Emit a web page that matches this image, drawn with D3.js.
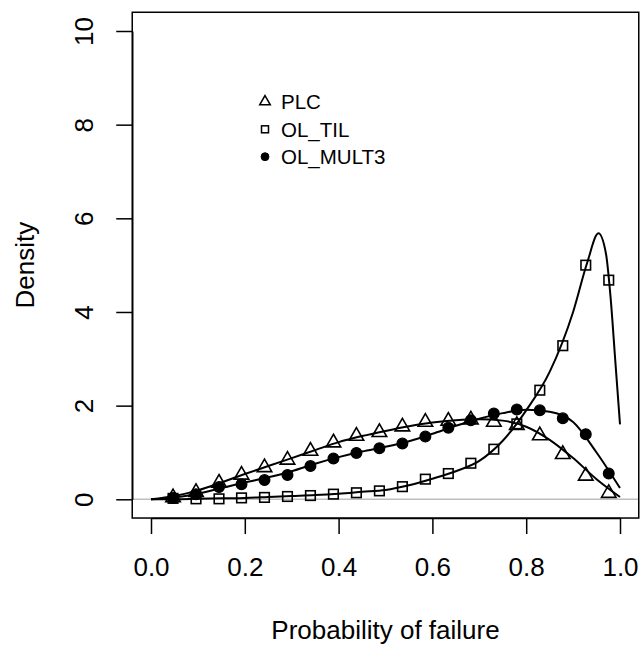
<!DOCTYPE html>
<html>
<head>
<meta charset="utf-8">
<script src="https://cdn.jsdelivr.net/npm/d3@7"></script>
<style>
  body { margin: 0; background: #fff; }
  text { font-family: "Liberation Sans", Arial, sans-serif; fill: #000; }
</style>
</head>
<body>
<div id="chart"></div>
<script>
// x positions of the plotted symbols
const pointX = [0.047, 0.096, 0.145, 0.193, 0.242, 0.291, 0.340, 0.389, 0.438, 0.487,
                0.536, 0.585, 0.634, 0.682, 0.731, 0.780, 0.829, 0.878, 0.927, 0.976];
const plcPts = [0.04, 0.15, 0.35, 0.52, 0.68, 0.84, 1.03, 1.21, 1.35, 1.43,
                1.55, 1.65, 1.67, 1.70, 1.65, 1.58, 1.36, 0.96, 0.50, 0.13];
const tilPts = [0.02, 0.01, 0.01, 0.03, 0.04, 0.06, 0.08, 0.11, 0.14, 0.18,
                0.27, 0.43, 0.55, 0.77, 1.07, 1.61, 2.33, 3.28, 5.00, 4.68];
const multPts = [0.03, 0.11, 0.26, 0.32, 0.41, 0.52, 0.71, 0.87, 0.99, 1.09,
                 1.19, 1.34, 1.53, 1.69, 1.83, 1.92, 1.90, 1.73, 1.39, 0.55];

// density curves
const curveX = [0, 0.05, 0.1, 0.15, 0.2, 0.25, 0.3, 0.35, 0.4, 0.45, 0.5,
                0.55, 0.6, 0.65, 0.7, 0.75, 0.8, 0.85, 0.9, 0.95, 1.0];
const plcCurve = [0.0, 0.07, 0.19, 0.36, 0.54, 0.71, 0.88, 1.05, 1.22, 1.35, 1.46,
                  1.56, 1.64, 1.69, 1.71, 1.68, 1.55, 1.27, 0.88, 0.43, 0.05];
const multCurve = [0.0, 0.04, 0.12, 0.24, 0.36, 0.47, 0.6, 0.76, 0.9, 1.02, 1.12,
                   1.24, 1.4, 1.57, 1.72, 1.84, 1.91, 1.87, 1.65, 1.0, 0.24];
const tilCurveX = [0, 0.05, 0.1, 0.15, 0.2, 0.25, 0.3, 0.35, 0.4, 0.45, 0.5, 0.55, 0.6,
                   0.65, 0.7, 0.75, 0.8, 0.85, 0.9, 0.93, 0.954, 0.97, 0.98, 0.99, 1.0];
const tilCurve = [0.0, 0.0, 0.01, 0.02, 0.03, 0.05, 0.07, 0.09, 0.12, 0.16, 0.2, 0.3, 0.44,
                  0.6, 0.82, 1.25, 1.9, 2.72, 4.0, 5.05, 5.68, 5.25, 4.3, 2.95, 1.6];

const xTicks = [0, 0.2, 0.4, 0.6, 0.8, 1.0];
const yTicks = [0, 2, 4, 6, 8, 10];
const legendLabels = ['PLC', 'OL_TIL', 'OL_MULT3'];

const w = 640;
const h = 650;

const x = d3.scaleLinear().domain([0, 1]).range([151, 620]);
const y = d3.scaleLinear().domain([0, 10]).range([499.3, 31]);

const boxL = x(-0.04), boxR = x(1.04), boxT = y(10.4), boxB = y(-0.4);

const svg = d3.select('#chart').append('svg').attr('width', w).attr('height', h);

// zero reference line
svg.append('line')
  .attr('x1', boxL).attr('x2', boxR)
  .attr('y1', y(0)).attr('y2', y(0))
  .attr('stroke', '#bebebe').attr('stroke-width', 1.5);

const line = d3.line().x(d => x(d[0])).y(d => y(d[1])).curve(d3.curveMonotoneX);

const drawCurve = (xs, ys) => {
  svg.append('path')
    .datum(xs.map((v, i) => [v, ys[i]]))
    .attr('d', line)
    .attr('fill', 'none')
    .attr('stroke', '#000')
    .attr('stroke-width', 2);
};
drawCurve(curveX, plcCurve);
drawCurve(tilCurveX, tilCurve);
drawCurve(curveX, multCurve);

// symbol shapes, R style
const size = 14.4;
const triPath = (s) => {
  const r = 0.583 * s, yc = 0.2916 * s, xc = 0.505 * s;
  return `M0,${-r}L${xc},${yc}L${-xc},${yc}Z`;
};

const drawTriangles = (vals, s) => {
  svg.append('g').selectAll('path')
    .data(vals)
    .enter()
    .append('path')
    .attr('d', triPath(s))
    .attr('transform', (d, i) => 'translate(' + x(pointX[i]) + ',' + y(d) + ')')
    .attr('fill', 'none').attr('stroke', '#000').attr('stroke-width', 1.6);
};
const drawSquares = (vals, s) => {
  const half = 0.3323 * s;
  svg.append('g').selectAll('rect')
    .data(vals)
    .enter()
    .append('rect')
    .attr('x', (d, i) => x(pointX[i]) - half)
    .attr('y', d => y(d) - half)
    .attr('width', half * 2).attr('height', half * 2)
    .attr('fill', 'none').attr('stroke', '#000').attr('stroke-width', 1.6);
};
const drawDots = (vals, s) => {
  svg.append('g').selectAll('circle')
    .data(vals)
    .enter()
    .append('circle')
    .attr('cx', (d, i) => x(pointX[i]))
    .attr('cy', d => y(d))
    .attr('r', 0.375 * s)
    .attr('fill', '#000').attr('stroke', '#000').attr('stroke-width', 1.2);
};

drawTriangles(plcPts, size);
drawSquares(tilPts, size);
drawDots(multPts, size);

// box
svg.append('rect')
  .attr('x', boxL).attr('y', boxT)
  .attr('width', boxR - boxL).attr('height', boxB - boxT)
  .attr('fill', 'none').attr('stroke', '#000').attr('stroke-width', 1.5);

// axes
const xAxis = d3.axisBottom(x).tickValues(xTicks).tickFormat(d3.format('.1f')).tickSize(16).tickSizeOuter(0);
const gx = svg.append('g').attr('transform', 'translate(0,' + boxB + ')').call(xAxis);
gx.selectAll('line').attr('stroke', '#000').attr('stroke-width', 1.5);
gx.select('.domain').attr('stroke', '#000').attr('stroke-width', 1.5);
gx.selectAll('text').attr('y', 58).attr('dy', 0).style('font-size', '26px').style('font-family', '"Liberation Sans", Arial, sans-serif');

const yAxis = d3.axisLeft(y).tickValues(yTicks).tickSize(16).tickSizeOuter(0);
const gy = svg.append('g').attr('transform', 'translate(' + boxL + ',0)').call(yAxis);
gy.selectAll('line').attr('stroke', '#000').attr('stroke-width', 1.5);
gy.select('.domain').attr('stroke', '#000').attr('stroke-width', 1.5);
gy.selectAll('text')
  .attr('x', 0).attr('dy', 0)
  .attr('text-anchor', 'middle')
  .attr('transform', 'translate(-39,0) rotate(-90)')
  .style('font-size', '26px').style('font-family', '"Liberation Sans", Arial, sans-serif');

// titles
svg.append('text')
  .attr('x', (boxL + boxR) / 2).attr('y', 639)
  .attr('text-anchor', 'middle').style('font-size', '26px')
  .text('Probability of failure');
svg.append('text')
  .attr('transform', 'translate(34,' + (boxT + boxB) / 2 + ') rotate(-90)')
  .attr('text-anchor', 'middle').style('font-size', '26px')
  .text('Density');

// legend
const legY = [101.7, 129.3, 156.7];
const lg = svg.append('g');
const ls = 10.5;
lg.append('path').attr('d', triPath(ls)).attr('transform', 'translate(265,' + legY[0] + ')')
  .attr('fill', 'none').attr('stroke', '#000').attr('stroke-width', 1.5);
lg.append('rect').attr('x', 265 - 0.3323 * ls).attr('y', legY[1] - 0.3323 * ls)
  .attr('width', 0.6646 * ls).attr('height', 0.6646 * ls)
  .attr('fill', 'none').attr('stroke', '#000').attr('stroke-width', 1.5);
lg.append('circle').attr('cx', 265).attr('cy', legY[2]).attr('r', 0.375 * ls)
  .attr('fill', '#000').attr('stroke', '#000').attr('stroke-width', 1);
lg.selectAll('text')
  .data(legendLabels)
  .enter()
  .append('text')
  .attr('x', 281)
  .attr('y', (d, i) => legY[i])
  .attr('dy', '0.36em')
  .style('font-size', '20.5px')
  .text(d => d);
</script>
</body>
</html>
